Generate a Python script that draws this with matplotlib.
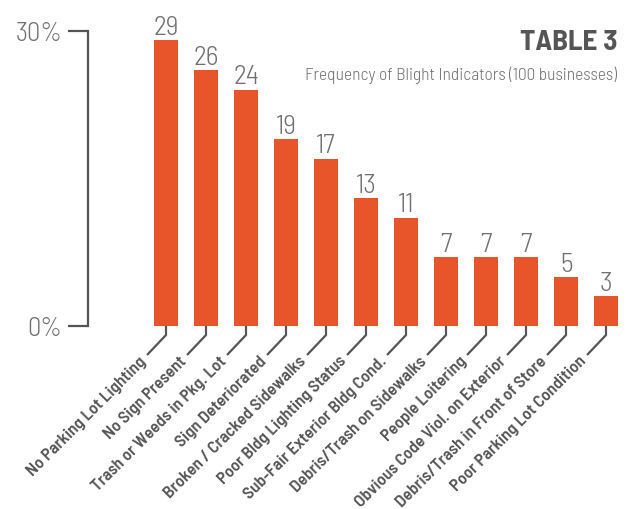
import matplotlib
matplotlib.use('Agg')
import matplotlib.pyplot as plt
import matplotlib.transforms as mtransforms

# Data
categories = ['No Parking Lot Lighting', 'No Sign Present', 'Trash or Weeds in Pkg. Lot',
              'Sign Deteriorated', 'Broken / Cracked Sidewalks', 'Poor Bldg Lighting Status',
              'Sub-Fair Exterior Bldg Cond.', 'Debris/Trash on Sidewalks', 'People Loitering',
              'Obvious Code Viol. on Exterior', 'Debris/Trash in Front of Store',
              'Poor Parking Lot Condition']
values = [29, 26, 24, 19, 17, 13, 11, 7, 7, 7, 5, 3]
ytick_vals = [0, 30]
ytick_labels = ['0%', '30%']

bar_color = '#E8552B'
axis_color = '#555555'
text_color = '#707070'
plt.rcParams['font.family'] = ['Barlow Semi Condensed', 'Barlow Condensed', 'DejaVu Sans']

fig = plt.figure(figsize=(6.29, 5.10), dpi=100)
ax = fig.add_axes([88/629, 1 - 327/510, (625 - 88)/629, (327 - 31.5)/510])

x = list(range(len(categories)))
ax.bar(x, values, width=0.6, color=bar_color, zorder=2)

# value labels above bars
for xi, v in zip(x, values):
    ax.annotate(str(v), (xi, v), xytext=(0, 4.5), textcoords='offset points',
                ha='center', va='baseline', fontsize=20, fontweight=300,
                color=text_color)

ax.set_xlim((88 - 166) / 40, (625 - 166) / 40)
ax.set_ylim(0, 30)

# y axis
for s in ['top', 'right', 'bottom']:
    ax.spines[s].set_visible(False)
ax.spines['left'].set_color(axis_color)
ax.spines['left'].set_linewidth(1.6)
ax.set_yticks(ytick_vals)
ax.set_yticklabels(ytick_labels, fontsize=19, fontweight=300, color=text_color)
ax.tick_params(axis='y', length=14.5, width=1.6, color=axis_color, pad=4)
ax.set_xticks([])

# connector lines and rotated category labels (offsets in points)
pt = 72.0 / fig.dpi
for xi, lab in zip(x, categories):
    base = mtransforms.ScaledTranslation(xi, 0, ax.transData)
    tr = mtransforms.Affine2D().scale(fig.dpi / 72.0) + base
    ax.plot([0, 0, -19 * pt], [0, -9 * pt, -29 * pt], color=axis_color, lw=1.6,
            transform=tr, clip_on=False, solid_capstyle='butt', solid_joinstyle='miter')
    ax.text(-22 * pt, -32 * pt, lab, transform=tr, rotation=45, rotation_mode='anchor',
            ha='right', va='center', fontsize=12.5, fontweight='semibold',
            color=axis_color)

# title block
fig.text(617/629, 1 - 50/510, 'TABLE 3', ha='right', va='baseline', fontsize=21,
         fontweight='bold', color=axis_color)
fig.text(617/629, 1 - 80/510, 'Frequency of Blight Indicators (100 businesses)',
         ha='right', va='baseline', fontsize=12.5, fontweight=300, color=text_color)

fig.savefig('out.png', dpi=100)
